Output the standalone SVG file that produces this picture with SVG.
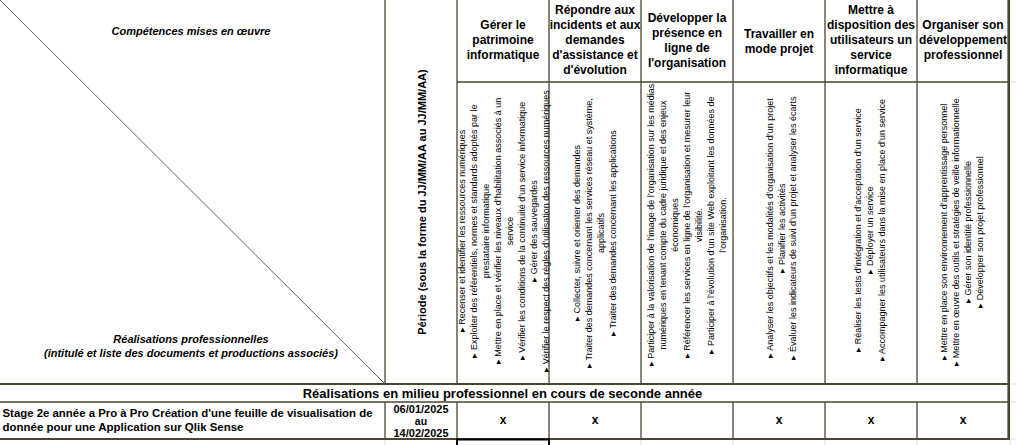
<svg xmlns="http://www.w3.org/2000/svg" width="1016" height="445" viewBox="0 0 1016 445">
<style>
.bg{fill:#ffffff}
.ln{stroke:#4a4530;stroke-width:1.3;fill:none}
.thk{stroke:#4a4530;stroke-width:2.2;fill:none}
.grid{stroke:#dadcdf;stroke-width:1;fill:none}
.diag{stroke:#3a3a3a;stroke-width:0.8}
.hd{font-family:"Liberation Sans",Arial,sans-serif;font-weight:bold;font-size:12px;text-anchor:middle;fill:#000}
.it{font-family:"Liberation Sans",Arial,sans-serif;font-weight:bold;font-style:italic;font-size:11px;text-anchor:middle;fill:#000}
.per{font-family:"Liberation Sans",Arial,sans-serif;font-weight:bold;font-size:11px;text-anchor:middle;fill:#000}
.sk{font-family:"Liberation Sans",Arial,sans-serif;font-size:9px;text-anchor:middle;fill:#000}
.sec{font-family:"Liberation Sans",Arial,sans-serif;font-weight:bold;font-size:13px;text-anchor:middle;fill:#000}
.row{font-family:"Liberation Sans",Arial,sans-serif;font-weight:bold;font-size:10.5px;fill:#000}
.dt{font-family:"Liberation Sans",Arial,sans-serif;font-weight:bold;font-size:10.5px;text-anchor:middle;fill:#000}
.x{font-family:"Liberation Sans",Arial,sans-serif;font-weight:bold;font-size:12px;text-anchor:middle;fill:#000}
</style>
<rect class="bg" x="0" y="0" width="1016" height="445"/>

<g id="excel-grid">
  <line class="grid" x1="1010" y1="82" x2="1016" y2="82"/>
  <line class="grid" x1="1010" y1="384" x2="1016" y2="384"/>
  <line class="grid" x1="1010" y1="402" x2="1016" y2="402"/>
  <line class="grid" x1="1010" y1="439" x2="1016" y2="439"/>
  <line class="grid" x1="385" y1="440" x2="385" y2="445"/>
  <line class="grid" x1="641" y1="440" x2="641" y2="445"/>
  <line class="grid" x1="733" y1="440" x2="733" y2="445"/>
  <line class="grid" x1="825" y1="440" x2="825" y2="445"/>
  <line class="grid" x1="917" y1="440" x2="917" y2="445"/>
  <line class="grid" x1="1010" y1="440" x2="1010" y2="445"/>
</g>

<g id="connectors">
  <line class="diag" x1="0" y1="0" x2="385" y2="384"/>
  <line class="ln" x1="385" y1="0" x2="385" y2="384"/>
  <line class="ln" x1="457" y1="0" x2="457" y2="384"/>
  <line class="ln" x1="549" y1="0" x2="549" y2="384"/>
  <line class="ln" x1="641" y1="0" x2="641" y2="384"/>
  <line class="ln" x1="733" y1="0" x2="733" y2="384"/>
  <line class="ln" x1="825" y1="0" x2="825" y2="384"/>
  <line class="ln" x1="917" y1="0" x2="917" y2="384"/>
  <line class="ln" x1="457" y1="82" x2="1009" y2="82"/>
  <line class="ln" x1="385" y1="402" x2="385" y2="439"/>
  <line class="ln" x1="457" y1="402" x2="457" y2="439"/>
  <line class="ln" x1="549" y1="402" x2="549" y2="439"/>
  <line class="ln" x1="641" y1="402" x2="641" y2="439"/>
  <line class="ln" x1="733" y1="402" x2="733" y2="439"/>
  <line class="ln" x1="825" y1="402" x2="825" y2="439"/>
  <line class="ln" x1="917" y1="402" x2="917" y2="439"/>
  <line class="thk" x1="0" y1="384" x2="1010" y2="384"/>
  <line class="ln" x1="0" y1="402" x2="1010" y2="402"/>
  <line class="thk" x1="0" y1="439" x2="1010" y2="439" style="stroke-width:1.8"/>
  <line class="thk" x1="1008.7" y1="0" x2="1008.7" y2="440" style="stroke-width:2.6"/>
</g>

<g id="corner-header">
  <text class="it" x="191" y="35">Compétences mises en œuvre</text>
  <text class="it" x="191" y="343">Réalisations professionnelles</text>
  <text class="it" x="191" y="356.5">(intitulé et liste des documents et productions associés)</text>
</g>

<g id="periode-header">
  <text class="per" transform="translate(425.5,202) rotate(-90)">Période (sous la forme du JJ/MM/AA au JJ/MM/AA)</text>
</g>

<g id="comp-1">
  <text class="hd" x="503" y="29">Gérer le</text>
  <text class="hd" x="503" y="44">patrimoine</text>
  <text class="hd" x="503" y="59">informatique</text>
  <text class="sk" transform="translate(465,231) rotate(-90)">▸ Recenser et identifier les ressources numériques</text>
  <text class="sk" transform="translate(477,231) rotate(-90)">▸ Exploiter des référentiels, normes et standards adoptés par le</text>
  <text class="sk" transform="translate(489,231) rotate(-90)">prestataire informatique</text>
  <text class="sk" transform="translate(501,231) rotate(-90)">▸ Mettre en place et vérifier les niveaux d’habilitation associés à un</text>
  <text class="sk" transform="translate(513,231) rotate(-90)">service</text>
  <text class="sk" transform="translate(525,231) rotate(-90)">▸ Vérifier les conditions de la continuité d’un service informatique</text>
  <text class="sk" transform="translate(537,231) rotate(-90)">▸ Gérer des sauvegardes</text>
  <text class="sk" transform="translate(549,231) rotate(-90)">▸ Vérifier le respect des règles d’utilisation des ressources numériques</text>
</g>

<g id="comp-2">
  <text class="hd" x="595" y="14">Répondre aux</text>
  <text class="hd" x="595" y="29">incidents et aux</text>
  <text class="hd" x="595" y="44">demandes</text>
  <text class="hd" x="595" y="59">d'assistance et</text>
  <text class="hd" x="595" y="74">d'évolution</text>
  <text class="sk" transform="translate(580,233) rotate(-90)">▸ Collecter, suivre et orienter des demandes</text>
  <text class="sk" transform="translate(592,233) rotate(-90)">▸ Traiter des demandes concernant les services réseau et système,</text>
  <text class="sk" transform="translate(604,233) rotate(-90)">applicatifs</text>
  <text class="sk" transform="translate(616,233) rotate(-90)">▸ Traiter des demandes concernant les applications</text>
</g>

<g id="comp-3">
  <text class="hd" x="687" y="21.5">Développer la</text>
  <text class="hd" x="687" y="36.5">présence en</text>
  <text class="hd" x="687" y="51.5">ligne de</text>
  <text class="hd" x="687" y="66.5">l'organisation</text>
  <text class="sk" transform="translate(654,225) rotate(-90)">▸ Participer à la valorisation de l’image de l’organisation sur les médias</text>
  <text class="sk" transform="translate(666,225) rotate(-90)">numériques en tenant compte du cadre juridique et des enjeux</text>
  <text class="sk" transform="translate(678,225) rotate(-90)">économiques</text>
  <text class="sk" transform="translate(690,225) rotate(-90)">▸ Référencer les services en ligne de l’organisation et mesurer leur</text>
  <text class="sk" transform="translate(702,225) rotate(-90)">visibilité.</text>
  <text class="sk" transform="translate(714,225) rotate(-90)">▸ Participer à l’évolution d’un site Web exploitant les données de</text>
  <text class="sk" transform="translate(726,225) rotate(-90)">l’organisation.</text>
</g>

<g id="comp-4">
  <text class="hd" x="779" y="37.5">Travailler en</text>
  <text class="hd" x="779" y="52.5">mode projet</text>
  <text class="sk" transform="translate(773,228) rotate(-90)">▸ Analyser les objectifs et les modalités d’organisation d’un projet</text>
  <text class="sk" transform="translate(784.5,228) rotate(-90)">▸ Planifier les activités</text>
  <text class="sk" transform="translate(796,228) rotate(-90)">▸ Évaluer les indicateurs de suivi d’un projet et analyser les écarts</text>
</g>

<g id="comp-5">
  <text class="hd" x="871" y="14">Mettre à</text>
  <text class="hd" x="871" y="29">disposition des</text>
  <text class="hd" x="871" y="44">utilisateurs un</text>
  <text class="hd" x="871" y="59">service</text>
  <text class="hd" x="871" y="74">informatique</text>
  <text class="sk" transform="translate(861,230) rotate(-90)">▸ Réaliser les tests d’intégration et d’acceptation d’un service</text>
  <text class="sk" transform="translate(873,230) rotate(-90)">▸ Déployer un service</text>
  <text class="sk" transform="translate(885,230) rotate(-90)">▸ Accompagner les utilisateurs dans la mise en place d’un service</text>
</g>

<g id="comp-6">
  <text class="hd" x="963" y="29">Organiser son</text>
  <text class="hd" x="963" y="44">développement</text>
  <text class="hd" x="963" y="59">professionnel</text>
  <text class="sk" transform="translate(947,232) rotate(-90)">▸ Mettre en place son environnement d’apprentissage personnel</text>
  <text class="sk" transform="translate(959,232) rotate(-90)">▸ Mettre en œuvre des outils et stratégies de veille informationnelle</text>
  <text class="sk" transform="translate(971,232) rotate(-90)">▸ Gérer son identité professionnelle</text>
  <text class="sk" transform="translate(983,232) rotate(-90)">▸ Développer son projet professionnel</text>
</g>

<g id="section-row">
  <text class="sec" x="502.5" y="397.5">Réalisations en milieu professionnel en cours de seconde année</text>
</g>

<g id="stage-row">
  <text class="row" x="2.5" y="417" textLength="370" lengthAdjust="spacingAndGlyphs">Stage 2e année a Pro à Pro Création d'une feuille de visualisation de</text>
  <text class="row" x="2.5" y="431" textLength="241" lengthAdjust="spacingAndGlyphs">donnée pour une Application sur Qlik Sense</text>
  <text class="dt" x="421" y="413" textLength="55" lengthAdjust="spacingAndGlyphs">06/01/2025</text>
  <text class="dt" x="421" y="424.5">au</text>
  <text class="dt" x="421" y="437" textLength="55" lengthAdjust="spacingAndGlyphs">14/02/2025</text>
  <text class="x" x="503" y="424">x</text>
  <text class="x" x="595" y="424">x</text>
  <text class="x" x="779" y="424">x</text>
  <text class="x" x="871" y="424">x</text>
  <text class="x" x="963" y="424">x</text>
</g>

<g id="selection">
  <path d="M457,446 V439.5 H549 V446" stroke="#000" stroke-width="2" fill="none"/>
</g>
</svg>
